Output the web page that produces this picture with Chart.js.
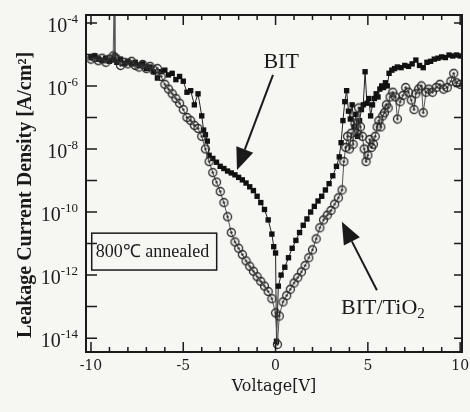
<!DOCTYPE html>
<html>
<head>
<meta charset="utf-8">
<script src="https://cdn.jsdelivr.net/npm/chart.js@4.4.1/dist/chart.umd.min.js"></script>
<style>
  html, body { margin: 0; padding: 0; background: #f6f6f3; }
  canvas { display: block; }
</style>
</head>
<body>
<canvas id="leak" width="470" height="412"></canvas>
<script>
// Voltage sweep [V] and log10 of leakage current density [A/cm^2]
const bitVoltage = [
  -10.0, -9.8, -9.6, -9.4, -9.2, -9.0, -8.8, -8.6, -8.4, -8.2, -8.0, -7.8, -7.6, -7.4, -7.2,
  -7.0, -6.8, -6.6, -6.4, -6.2, -6.0, -5.8, -5.6, -5.4, -5.2, -5.0, -4.8, -4.6, -4.4, -4.2,
  -4.0, -3.9, -3.8, -3.7, -3.6, -3.4, -3.2, -3.0, -2.8, -2.6, -2.4, -2.2, -2.0, -1.8, -1.6,
  -1.4, -1.2, -1.0, -0.8, -0.6, -0.4, -0.2, -0.1, 0.0, 0.05, 0.15, 0.3, 0.5, 0.7, 0.9,
  1.1, 1.3, 1.5, 1.7, 1.9, 2.1, 2.3, 2.5, 2.7, 2.9, 3.1, 3.3, 3.45, 3.55, 3.65,
  3.75, 3.85, 3.95, 4.05, 4.15, 4.25, 4.35, 4.45, 4.55, 4.65, 4.75, 4.85, 4.95, 5.05, 5.15,
  5.25, 5.35, 5.45, 5.55, 5.65, 5.75, 5.85, 5.95, 6.05, 6.15, 6.3, 6.45, 6.6, 6.8, 7.0,
  7.2, 7.4, 7.6, 7.8, 8.0, 8.2, 8.4, 8.6, 8.8, 9.0, 9.2, 9.4, 9.6, 9.8, 10.0
];
const bitLogJ = [
  -5.10, -5.05, -5.15, -5.20, -5.12, -5.22, -5.17, -5.25, -5.15, -5.28, -5.22, -5.30, -5.25, -5.35, -5.30,
  -5.45, -5.40, -5.55, -5.75, -5.55, -5.50, -5.65, -5.60, -5.80, -5.70, -5.85, -6.20, -6.15, -6.60, -6.25,
  -6.95, -7.40, -7.55, -7.75, -8.20, -8.30, -8.42, -8.55, -8.62, -8.70, -8.76, -8.82, -8.90, -8.98, -9.08,
  -9.20, -9.32, -9.50, -9.70, -9.92, -10.25, -10.70, -11.10, -11.30, -14.10, -12.35, -12.00, -11.75, -11.45, -11.15,
  -10.90, -10.65, -10.42, -10.22, -10.00, -9.82, -9.65, -9.50, -9.30, -9.10, -8.85, -8.55, -8.25, -7.80, -7.10,
  -6.50, -6.15, -6.80, -7.05, -6.60, -7.30, -6.90, -7.60, -7.10, -6.75, -6.60, -5.55, -6.55, -6.40, -6.95,
  -6.60, -6.40, -6.25, -6.35, -6.10, -6.00, -6.05, -5.90, -6.00, -5.60, -5.50, -5.45, -5.40, -5.42, -5.35,
  -5.38, -5.30, -5.18, -5.35, -5.42, -5.25, -5.22, -5.15, -5.12, -5.08, -5.10, -5.02, -5.05, -5.02, -5.05
];
const tioVoltage = [
  -10.0, -9.8, -9.6, -9.4, -9.2, -9.0, -8.8, -8.75, -8.7, -8.6, -8.4, -8.2, -8.0, -7.8, -7.6,
  -7.4, -7.2, -7.0, -6.8, -6.6, -6.4, -6.2, -6.0, -5.8, -5.6, -5.4, -5.2, -5.0, -4.8, -4.6,
  -4.4, -4.2, -4.0, -3.8, -3.6, -3.4, -3.2, -3.0, -2.8, -2.6, -2.4, -2.2, -2.0, -1.8, -1.6,
  -1.4, -1.2, -1.0, -0.8, -0.6, -0.4, -0.2, 0.0, 0.1, 0.2, 0.4, 0.6, 0.8, 1.0, 1.2,
  1.4, 1.6, 1.8, 2.0, 2.2, 2.4, 2.6, 2.8, 3.0, 3.2, 3.4, 3.6, 3.7, 3.8, 3.9,
  4.0, 4.1, 4.2, 4.3, 4.4, 4.5, 4.6, 4.7, 4.8, 4.9, 5.0, 5.1, 5.2, 5.3, 5.4,
  5.5, 5.6, 5.7, 5.8, 5.9, 6.0, 6.1, 6.2, 6.35, 6.5, 6.6, 6.75, 6.9, 7.05, 7.2,
  7.35, 7.5, 7.6, 7.75, 7.9, 8.0, 8.15, 8.3, 8.5, 8.7, 8.9, 9.1, 9.3, 9.5, 9.65,
  9.8, 10.0
];
const tioLogJ = [
  -5.15, -5.10, -5.20, -5.12, -5.25, -5.15, -5.05, -3.50, -5.10, -5.15, -5.35, -5.25, -5.30, -5.22, -5.35,
  -5.40, -5.32, -5.45, -5.38, -5.50, -5.45, -5.70, -5.95, -6.10, -6.25, -6.40, -6.55, -6.75, -7.00, -7.10,
  -7.25, -7.35, -7.60, -8.00, -8.40, -8.75, -9.05, -9.35, -9.70, -10.15, -10.65, -10.95, -11.15, -11.35, -11.55,
  -11.72, -11.88, -12.05, -12.20, -12.35, -12.52, -12.75, -13.20, -14.20, -13.30, -12.85, -12.65, -12.45, -12.25, -12.08,
  -11.90, -11.70, -11.45, -11.20, -10.85, -10.50, -10.25, -10.10, -9.95, -9.75, -9.55, -9.30, -8.40, -7.95, -7.60,
  -8.00, -7.50, -7.85, -7.20, -7.50, -6.70, -7.30, -7.60, -8.00, -8.40, -8.20, -7.70, -7.95, -7.85, -7.60,
  -7.30, -7.10, -7.30, -6.95, -6.85, -6.60, -6.70, -6.35, -6.20, -6.35, -7.05, -6.50, -6.30, -6.05, -6.20,
  -6.45, -6.75, -6.25, -6.10, -6.00, -6.85, -6.20, -6.10, -6.20, -6.05, -5.95, -6.10, -6.05, -5.85, -5.60,
  -5.90, -5.95
];

const xTickLabels = [-10, -5, 0, 5, 10];
const yTickExponents = [-4, -6, -8, -10, -12, -14];
const seriesNames = ['BIT', 'BIT/TiO2'];

const INK = '#1a1a1a';
const SERIF = '"Liberation Serif", "Times New Roman", serif';

// open circle with a dot in the middle
function ringDot() {
  const c = document.createElement('canvas');
  c.width = 11; c.height = 11;
  const g = c.getContext('2d');
  g.strokeStyle = '#2a2a2a';
  g.lineWidth = 1.3;
  g.beginPath(); g.arc(5.5, 5.5, 4, 0, Math.PI * 2); g.stroke();
  g.fillStyle = '#2a2a2a';
  g.beginPath(); g.arc(5.5, 5.5, 1.2, 0, Math.PI * 2); g.fill();
  return c;
}

function toPoints(xs, logs) {
  return xs.map((v, i) => ({ x: v, y: Math.pow(10, logs[i]) }));
}

function arrow(ctx, x0, y0, x1, y1) {
  const a = Math.atan2(y1 - y0, x1 - x0);
  const len = 22, half = 9;
  const bx = x1 - len * Math.cos(a), by = y1 - len * Math.sin(a);
  ctx.lineWidth = 2;
  ctx.beginPath(); ctx.moveTo(x0, y0); ctx.lineTo(bx, by); ctx.stroke();
  ctx.beginPath();
  ctx.moveTo(x1, y1);
  ctx.lineTo(bx + half * Math.sin(a), by - half * Math.cos(a));
  ctx.lineTo(bx - half * Math.sin(a), by + half * Math.cos(a));
  ctx.closePath(); ctx.fill();
}

const framePlugin = {
  id: 'frame',
  beforeDraw(chart) {
    const ctx = chart.ctx;
    ctx.save();
    ctx.fillStyle = '#f6f6f3';
    ctx.fillRect(0, 0, chart.width, chart.height);
    ctx.restore();
  },
  afterDraw(chart) {
    const { ctx, chartArea: a, scales: { x, y } } = chart;
    ctx.save();
    ctx.strokeStyle = INK;
    ctx.fillStyle = INK;

    // box
    ctx.lineWidth = 2;
    ctx.strokeRect(a.left, a.top, a.right - a.left, a.bottom - a.top);

    // inward ticks
    ctx.lineWidth = 1.5;
    ctx.beginPath();
    for (let v = -10; v <= 10; v++) {
      const px = x.getPixelForValue(v);
      const l = v % 5 === 0 ? 10 : 5;
      ctx.moveTo(px, a.bottom); ctx.lineTo(px, a.bottom - l);
      ctx.moveTo(px, a.top); ctx.lineTo(px, a.top + l);
    }
    for (let e = -14; e <= -4; e++) {
      const py = y.getPixelForValue(Math.pow(10, e));
      ctx.moveTo(a.left, py); ctx.lineTo(a.left + 11, py);
      ctx.moveTo(a.right, py); ctx.lineTo(a.right - 8, py);
    }
    ctx.stroke();

    // y tick labels 10^n
    yTickExponents.forEach(e => {
      const py = y.getPixelForValue(Math.pow(10, e));
      ctx.font = '13px ' + SERIF;
      ctx.textAlign = 'right';
      ctx.textBaseline = 'alphabetic';
      const ex = String(e);
      ctx.fillText(ex, a.left - 8, py);
      const w = ctx.measureText(ex).width;
      ctx.font = '20px ' + SERIF;
      ctx.textBaseline = 'middle';
      ctx.fillText('10', a.left - 8 - w, py + 4);
    });

    // y axis title
    ctx.save();
    ctx.translate(26, 195);
    ctx.rotate(-Math.PI / 2);
    ctx.font = 'bold 20px ' + SERIF;
    ctx.textAlign = 'center';
    ctx.textBaseline = 'middle';
    ctx.fillText('Leakage Current Density [A/cm²]', 0, 0);
    ctx.restore();

    // series labels with arrows
    const P = (v, lg) => [x.getPixelForValue(v), y.getPixelForValue(Math.pow(10, lg))];
    let s = P(-0.14, -5.65), t = P(-2.09, -8.67);
    arrow(ctx, s[0], s[1], t[0], t[1]);
    s = P(5.49, -12.48); t = P(3.59, -10.31);
    arrow(ctx, s[0], s[1], t[0], t[1]);

    ctx.font = '22px ' + SERIF;
    ctx.textAlign = 'center';
    ctx.textBaseline = 'middle';
    let p = P(0.3, -5.24);
    ctx.fillText(seriesNames[0], p[0], p[1]);

    p = P(3.55, -13.05);
    ctx.textAlign = 'left';
    const main = 'BIT/TiO';
    ctx.fillText(main, p[0], p[1]);
    const mw = ctx.measureText(main).width;
    ctx.font = '15px ' + SERIF;
    ctx.fillText('2', p[0] + mw, p[1] + 6);

    // annealing note
    const b0 = P(-9.96, -10.67), b1 = P(-3.19, -11.84);
    ctx.lineWidth = 1.5;
    ctx.strokeRect(b0[0], b0[1], b1[0] - b0[0], b1[1] - b0[1]);
    ctx.font = '18px ' + SERIF;
    ctx.textAlign = 'left';
    ctx.fillText('800℃ annealed', b0[0] + 4, (b0[1] + b1[1]) / 2 + 1);

    ctx.restore();
  }
};

new Chart(document.getElementById('leak'), {
  type: 'scatter',
  data: {
    datasets: [
      {
        label: seriesNames[1],
        data: toPoints(tioVoltage, tioLogJ),
        showLine: true,
        borderColor: '#555',
        borderWidth: 1,
        pointStyle: ringDot(),
        pointRadius: 4.5
      },
      {
        label: seriesNames[0],
        data: toPoints(bitVoltage, bitLogJ),
        showLine: true,
        borderColor: '#222',
        backgroundColor: '#111',
        borderWidth: 1,
        pointStyle: 'rect',
        pointRadius: 3.8,
        pointBorderWidth: 0
      }
    ]
  },
  options: {
    responsive: false,
    animation: false,
    devicePixelRatio: 1,
    layout: { padding: { top: 15, right: 8, left: 0, bottom: 0 } },
    plugins: { legend: { display: false }, tooltip: { enabled: false } },
    scales: {
      x: {
        type: 'linear',
        min: -10.27,
        max: 10.1,
        grid: { display: false, drawTicks: false },
        border: { display: false },
        ticks: {
          stepSize: 5,
          includeBounds: false,
          padding: 6,
          color: INK,
          font: { family: '"DejaVu Serif", serif', size: 14 },
          callback: v => xTickLabels.includes(v) ? String(v) : ''
        },
        title: {
          display: true,
          text: 'Voltage[V]',
          color: INK,
          font: { family: '"DejaVu Serif", serif', size: 16 },
          padding: { top: 0, bottom: 16 }
        },
        afterFit: s => { s.height = 60; s.paddingLeft = 0; s.paddingRight = 0; }
      },
      y: {
        type: 'logarithmic',
        min: Math.pow(10, -14.44),
        max: Math.pow(10, -3.75),
        grid: { display: false, drawTicks: false },
        border: { display: false },
        ticks: { display: false },
        afterFit: s => { s.width = 86; }
      }
    }
  },
  plugins: [framePlugin]
});
</script>
</body>
</html>
